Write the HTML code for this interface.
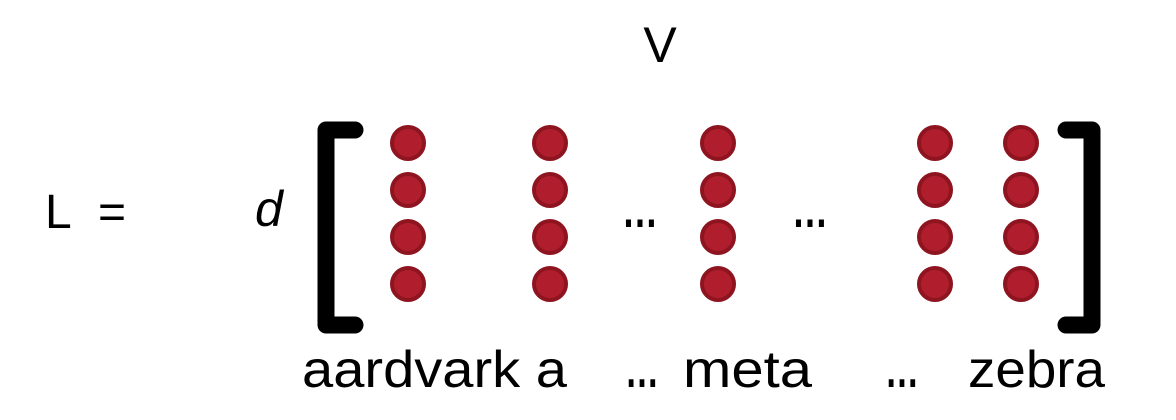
<!DOCTYPE html>
<html><head><meta charset="utf-8"><style>html,body{margin:0;padding:0;background:#fff;width:1176px;height:420px;overflow:hidden}</style></head>
<body>
<svg width="1176" height="420" viewBox="0 0 1176 420" xmlns="http://www.w3.org/2000/svg" font-family="Liberation Sans, sans-serif">
  <text x="660" y="62" font-size="50" text-anchor="middle">V</text>
  <text x="45" y="228" font-size="48">L</text>
  <text x="98" y="228" font-size="48">=</text>
  <text x="255" y="226" font-size="50" font-style="italic">d</text>
  <path d="M355 130 H326 V325 H355" fill="none" stroke="#000" stroke-width="17" stroke-linejoin="round" stroke-linecap="round"/>
  <path d="M1066 130 H1092 V325 H1066" fill="none" stroke="#000" stroke-width="17" stroke-linejoin="round" stroke-linecap="round"/>
  <g id="dots"></g>
  <text x="622" y="227" font-size="50" font-weight="bold" textLength="36" lengthAdjust="spacingAndGlyphs">…</text>
  <text x="792" y="227" font-size="50" font-weight="bold" textLength="36" lengthAdjust="spacingAndGlyphs">…</text>
  <text x="302" y="387" font-size="52" textLength="265" lengthAdjust="spacingAndGlyphs">aardvark a</text>
  <text x="625" y="387" font-size="52" font-weight="bold" textLength="34" lengthAdjust="spacingAndGlyphs">…</text>
  <text x="683" y="387" font-size="52" textLength="129" lengthAdjust="spacingAndGlyphs">meta</text>
  <text x="885" y="387" font-size="52" font-weight="bold" textLength="34" lengthAdjust="spacingAndGlyphs">…</text>
  <text x="968" y="387" font-size="52" textLength="137" lengthAdjust="spacingAndGlyphs">zebra</text>
</svg>
<script>
const columns = [408, 550, 718, 935, 1021];
const rows = [143, 190, 237, 284];
const g = document.getElementById('dots');
columns.forEach(function(cx, i){
  rows.forEach(function(cy, j){
    const c = document.createElementNS('http://www.w3.org/2000/svg','circle');
    c.setAttribute('cx', cx); c.setAttribute('cy', cy); c.setAttribute('r', 16);
    c.setAttribute('fill', '#b01e2d'); c.setAttribute('stroke', '#8e1420'); c.setAttribute('stroke-width', 4);
    
    
    g.appendChild(c);
  });
});
</script>
</body></html>
